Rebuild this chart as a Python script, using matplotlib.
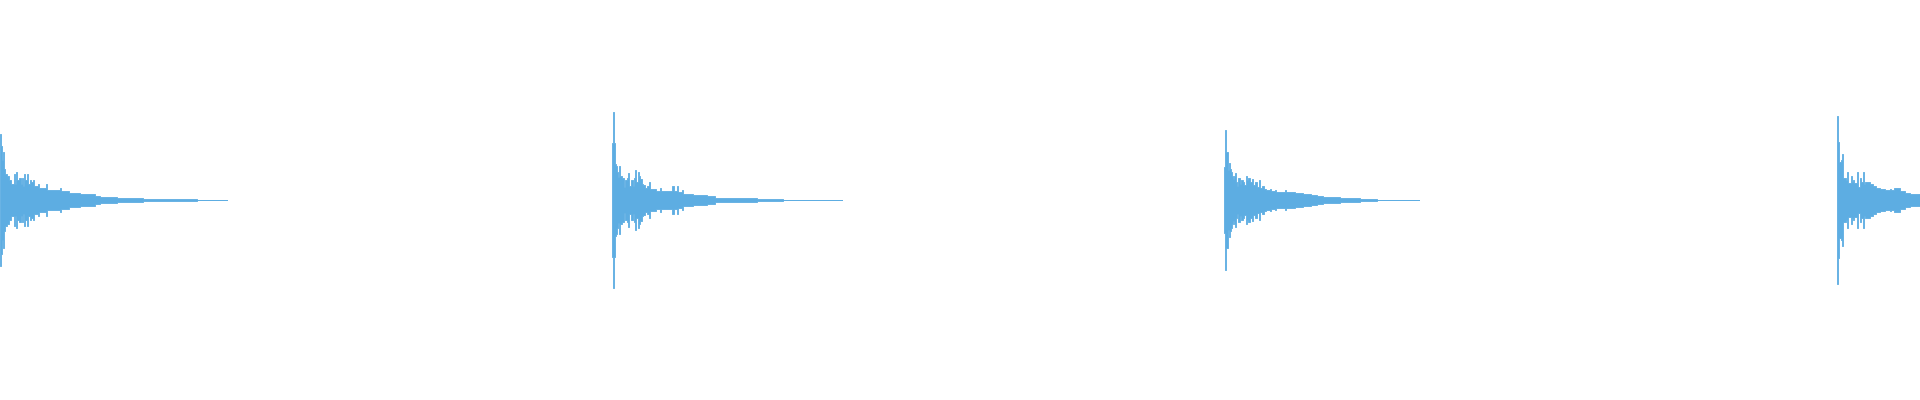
import matplotlib.pyplot as plt

# waveform envelope
# time in ms (offset from each hit), amplitude in % of full scale
onsets = [0, 3060, 6120, 9185]

hit1_t = [0, 5, 10, 15, 20, 25, 35, 45, 55, 70, 75, 80, 85, 95, 105, 110, 115, 120, 125, 135,
          140, 150, 155, 165, 170, 190, 195, 230, 235, 300, 305, 345, 400, 475, 500, 585, 715, 785, 985, 1135]
hit1_a = [33.2, 27.2, 20.2, 24.2, 15.5, 13.2, 11.8, 9.8, 8.2, 12.8, 8.2, 13.8, 9.8, 11.2, 8.2, 11.2, 7.2, 12.8, 9.8, 12.8,
          8.2, 10.2, 9.0, 10.2, 7.2, 8.2, 5.8, 7.8, 5.2, 6.2, 4.5, 3.5, 2.8, 2.2, 1.5, 1.0, 0.6, 0.3, 0.2, 0.2]

hit2_t = [0, 5, 10, 15, 20, 25, 30, 35, 40, 50, 60, 65, 75, 80, 85, 95, 105, 110, 115, 120,
          130, 135, 140, 150, 155, 165, 175, 185, 190, 220, 240, 245, 300, 310, 325, 330, 350, 355, 405, 475,
          515, 605, 725, 855, 1100, 1150]
hit2_a = [28.5, 44.2, 28.5, 17.8, 16.8, 14, 11.5, 17.2, 11.8, 11.2, 6.5, 9.8, 11.2, 13.5, 7.2, 10.2, 7.2, 11, 15.2, 9,
          14.2, 11.8, 10.5, 8.2, 7.5, 6, 7.2, 9.2, 5.5, 4.5, 6, 4.5, 6.8, 4.5, 6.8, 4, 5, 2.8, 2.4, 1.8,
          1.2, 0.8, 0.4, 0.2, 0.2, 0.2]

hit3_t = [0, 5, 10, 20, 25, 30, 35, 40, 45, 50, 55, 60, 65, 70, 80, 85, 95, 100, 110, 115,
          120, 130, 140, 145, 155, 165, 175, 180, 190, 200, 210, 230, 235, 255, 260, 305, 310, 355, 395, 435,
          465, 495, 580, 680, 765, 930, 975]
hit3_a = [16.5, 34.8, 24.2, 14.8, 18.5, 15.5, 14, 11.8, 10.5, 12.2, 13.5, 9.2, 7.2, 11, 7.8, 10.2, 9, 7.5, 11.8, 10.2,
          11, 9, 10.5, 7.5, 9.2, 6.5, 9.8, 6, 7.2, 5.5, 4.8, 5.5, 4.5, 5.2, 4.2, 5.2, 4, 3.5, 3, 2.5,
          2, 1.5, 0.8, 0.4, 0.2, 0.2, 0.2]

hit4_t = [0, 5, 10, 20, 25, 30, 45, 50, 55, 70, 75, 80, 85, 100, 105, 115, 120, 130, 135, 140,
          165, 180, 195, 215, 240, 265, 270, 285, 315, 340, 365, 415]
hit4_a = [42, 29.2, 19.2, 20.2, 22.8, 11, 9.8, 13.8, 8.5, 11.8, 9.2, 10.2, 8.5, 13.8, 6.5, 11, 9.2, 13.8, 8.2, 9.2,
          7.8, 6.8, 6, 5.5, 5, 5.5, 5, 6, 4.5, 3.5, 2.8, 2.8]

hits = [(hit1_t, hit1_a), (hit2_t, hit2_a), (hit3_t, hit3_a), (hit4_t, hit4_a)]
color = "#5dade2"

fig = plt.figure(figsize=(19.2, 4), dpi=100)
ax = fig.add_axes([0, 0, 1, 1])

for start, (t, a) in zip(onsets, hits):
    x = [start + v for v in t]
    lo = [-v for v in a]
    ax.fill_between(x, lo, a, step="post", color=color, linewidth=0.6, edgecolor=color)

ax.set_xlim(0, 9600)
ax.set_ylim(-100, 100)
ax.axis("off")

plt.savefig("out.png", dpi=100, facecolor="white")
